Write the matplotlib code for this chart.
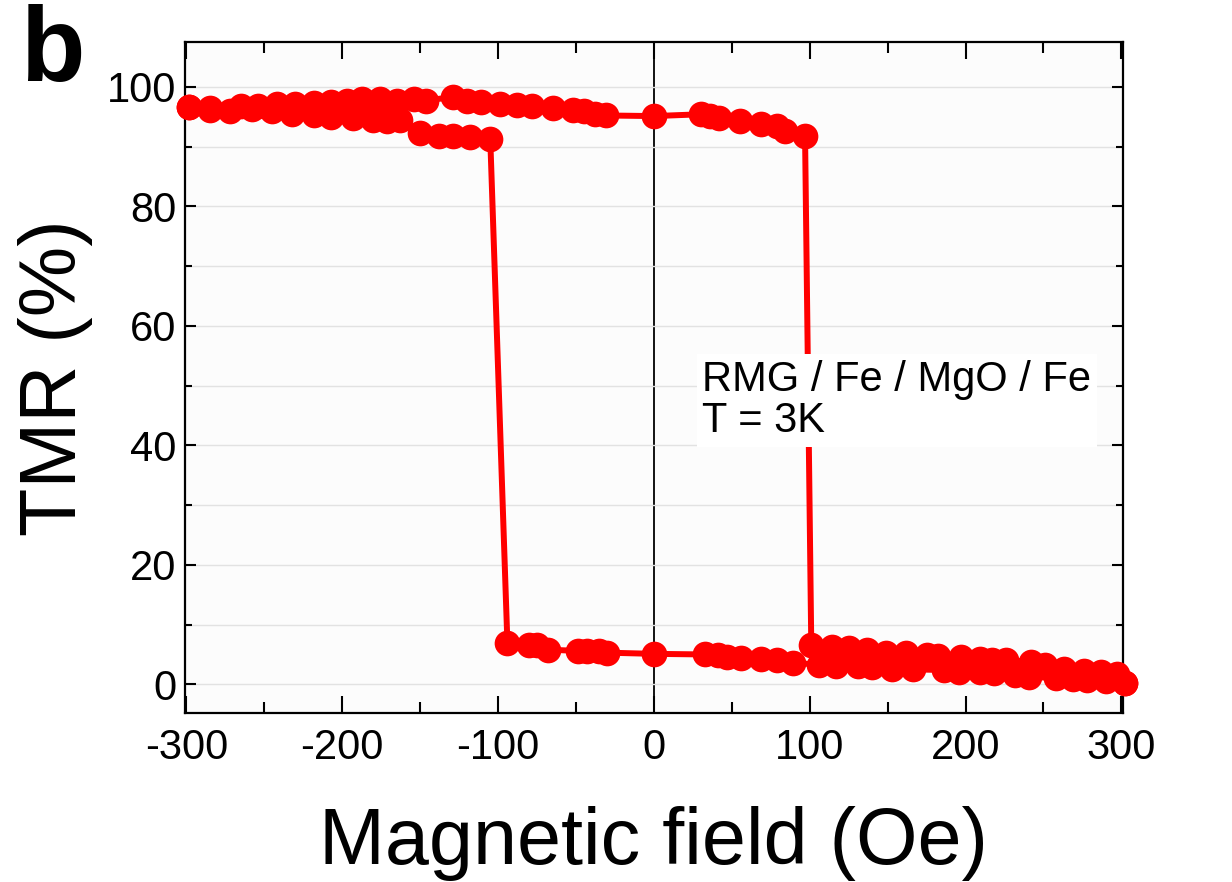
import matplotlib
matplotlib.use('Agg')
import matplotlib.pyplot as plt
import numpy as np
from matplotlib.ticker import MultipleLocator

plt.rcParams['font.family'] = ['Liberation Sans', 'DejaVu Sans']

# sweep from negative to positive field (upper branch, then switch near +100 Oe)
field_up = [-298, -285, -265, -254, -242, -230, -218, -207, -197, -187, -176, -165,
            -154, -146, -129, -120, -111, -99, -88, -78, -65, -52, -45, -38, -31,
            0, 30, 36, 42, 55, 69, 79, 84, 97,
            101, 114, 125, 137, 149, 162, 175, 182, 197, 209, 217, 226, 242, 251,
            263, 276, 287, 297, 302]
tmr_up = [96.6, 96.4, 96.8, 96.8, 97.2, 97.2, 97.3, 97.5, 97.6, 97.9, 97.9, 97.7,
          97.9, 97.7, 98.3, 97.6, 97.5, 97.1, 97.0, 96.8, 96.5, 96.2, 95.9, 95.5, 95.2,
          95.1, 95.4, 95.1, 94.7, 94.2, 93.8, 93.5, 92.6, 91.8,
          6.5, 6.2, 6.0, 5.7, 5.3, 5.3, 4.9, 4.8, 4.5, 4.3, 4.1, 4.0, 3.8, 3.3,
          2.6, 2.2, 2.1, 1.8, 0.3]

# sweep from positive to negative field (lower branch, then switch near -100 Oe)
field_down = [302, 290, 278, 269, 258, 241, 232, 218, 209, 196, 186, 166, 153, 140,
              131, 117, 106, 89, 79, 69, 56, 47, 41, 33, 0, -30, -35, -43, -49,
              -68, -75, -80, -94,
              -105, -118, -129, -138, -150, -163, -171, -180, -193, -207, -218,
              -232, -245, -258, -272, -285, -298]
tmr_down = [0.3, 0.5, 0.8, 0.9, 1.0, 1.3, 1.5, 1.9, 2.0, 2.1, 2.4, 2.5, 2.6, 2.9,
            3.0, 3.1, 3.3, 3.6, 4.0, 4.3, 4.4, 4.6, 4.9, 5.0, 5.1, 5.3, 5.5, 5.5, 5.6,
            5.8, 6.6, 6.6, 7.0,
            91.3, 91.6, 91.7, 91.8, 92.3, 94.5, 94.3, 94.5, 94.8, 95.0, 95.3,
            95.5, 96.0, 96.3, 95.9, 96.1, 96.6]

fig = plt.figure(figsize=(12.32, 8.82), dpi=100)
ax = fig.add_axes([0.150, 0.1916, 0.7615, 0.7608])
ax.set_facecolor('#fcfcfc')

ax.set_xlim(-301, 301)
ax.set_ylim(-4.8, 107.5)

# light horizontal grid every 10 %
ax.yaxis.set_minor_locator(MultipleLocator(10))
ax.grid(True, axis='y', which='both', color='#e2e2e2', lw=1.0, zorder=0)
ax.axvline(0, color='black', lw=1.3, zorder=1)

for f, t in [(field_up, tmr_up), (field_down, tmr_down)]:
    ax.plot(f, t, color='#ff0000', lw=4.3, marker='o', markersize=18.5,
            markeredgewidth=0, zorder=3, clip_on=False)

ax.set_xticks(np.arange(-300, 301, 100))
ax.set_xticklabels([str(v) for v in range(-300, 301, 100)])
ax.xaxis.set_minor_locator(MultipleLocator(50))
ax.set_yticks(np.arange(0, 101, 20))

ax.tick_params(axis='x', which='major', direction='in', length=12, width=1.5,
               top=True, labelsize=30, pad=11)
ax.tick_params(axis='x', which='minor', direction='in', length=8, width=1.5, top=True)
ax.tick_params(axis='y', which='major', direction='in', length=8, width=1.5,
               right=True, labelsize=30, pad=6)
ax.tick_params(axis='y', which='minor', direction='in', length=5, width=1.5, right=True)
for s in ax.spines.values():
    s.set_linewidth(1.6)
    s.set_zorder(2)

ax.set_xlabel('Magnetic field (Oe)', fontsize=57, labelpad=27)
ax.set_ylabel('TMR (%)', fontsize=57, labelpad=10)

ax.text(31, 54.3, 'RMG / Fe / MgO / Fe\nT = 3K', fontsize=30, ha='left', va='top',
        linespacing=1.05, zorder=5,
        bbox=dict(facecolor='white', edgecolor='none', pad=4))

fig.text(20 / 1232, 1 - 4 / 882, 'b', fontsize=76, fontweight='bold',
         ha='left', va='top')

fig.savefig('out.png', dpi=100)
